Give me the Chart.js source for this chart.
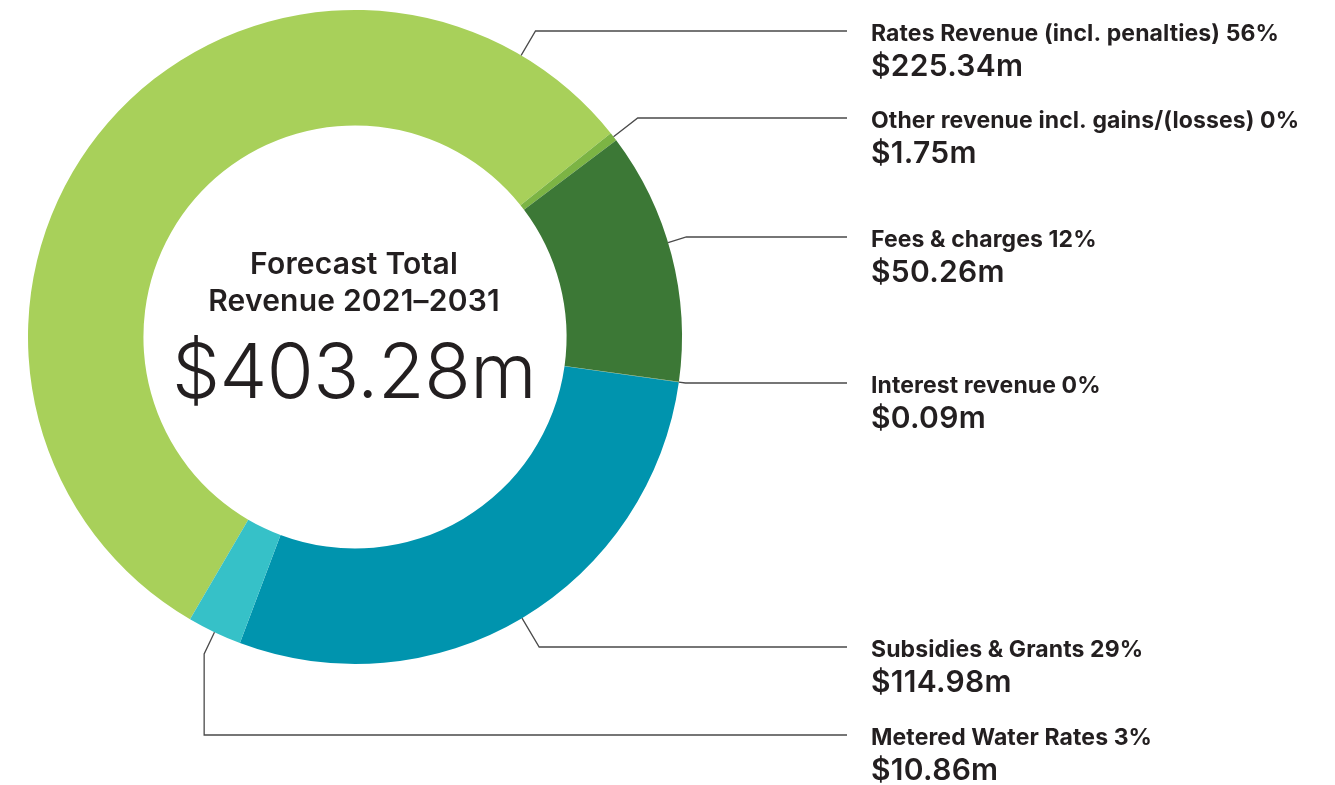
<!DOCTYPE html>
<html>
<head>
<meta charset="utf-8">
<script src="https://cdn.jsdelivr.net/npm/chart.js@4"></script>
<style>
  html, body { margin: 0; padding: 0; background: #fff; }
  canvas { display: block; }
</style>
</head>
<body>
<canvas id="revenue_chart" width="1335" height="785"></canvas>
<script>
// data
const categories = [
    'Rates Revenue (incl. penalties)',
    'Other revenue incl. gains/(losses)',
    'Fees & charges',
    'Interest revenue',
    'Subsidies & Grants',
    'Metered Water Rates'
];
const values = [225.34, 1.75, 50.26, 0.09, 114.98, 10.86];
const colours = ['#a8d05a', '#7cb444', '#3c7836', '#6e8f3a', '#0094ae', '#36c1c8'];
const centre_title = ['Forecast Total', 'Revenue 2021\u20132031'];

const total = values.reduce((a, b) => a + b, 0);
const money = v => '$' + v.toFixed(2) + 'm';
const percent = v => Math.round(v / total * 100) + '%';

// where each leader line meets its label (y of horizontal run), and where on the slice it starts
const label_y = [31, 118, 237, 383, 647, 735];
const anchor_at = [0.896, 0.5, 0.45, 0.5, 0.5, 0.5];
const line_end_x = 847;
const text_x = 871;
const ink = '#231f20';

const leader_labels = {
    id: 'leader_labels',
    afterDraw(chart) {
        const ctx = chart.ctx;
        const meta = chart.getDatasetMeta(0);
        ctx.save();
        meta.data.forEach((arc, i) => {
            const p = arc.getProps(['x', 'y', 'startAngle', 'endAngle', 'outerRadius'], true);
            const a = p.startAngle + (p.endAngle - p.startAngle) * anchor_at[i];
            const cos = Math.cos(a), sin = Math.sin(a);
            const ax = p.x + cos * p.outerRadius;
            const ay = p.y + sin * p.outerRadius;
            const ly = label_y[i];
            // go out radially until we hit the label row, or bend down if that is too far
            let t = Math.abs(sin) > 0.05 ? (ly - ay) / sin : -1;
            let ex, ey;
            if (t > 0 && t < 45) {
                ex = ax + cos * t; ey = ly;
            } else {
                t = 24; ex = ax + cos * t; ey = ay + sin * t;
            }
            ctx.beginPath();
            ctx.strokeStyle = '#4a4a4a';
            ctx.lineWidth = 1.3;
            ctx.moveTo(ax, ay);
            ctx.lineTo(ex, ey);
            if (ey !== ly) ctx.lineTo(ex, ly);
            ctx.lineTo(line_end_x, ly);
            ctx.stroke();

            ctx.fillStyle = ink;
            ctx.textAlign = 'left';
            ctx.textBaseline = 'alphabetic';
            ctx.font = '700 23px Inter';
            ctx.letterSpacing = '0.1px';
            ctx.fillText(categories[i] + ' ' + percent(values[i]), text_x, ly + 10);
            ctx.font = '600 30px Inter';
            ctx.letterSpacing = '0.3px';
            ctx.fillText(money(values[i]), text_x, ly + 45);
        });

        // centre text
        const c = meta.data[0];
        const cx = c.x - 1, cy = c.y;
        ctx.textAlign = 'center';
        ctx.fillStyle = ink;
        ctx.font = '600 30px Inter';
        ctx.letterSpacing = '0.2px';
        ctx.fillText(centre_title[0], cx, cy - 63);
        ctx.fillText(centre_title[1], cx, cy - 26);
        ctx.font = '300 76px Inter';
        ctx.letterSpacing = '-0.5px';
        ctx.fillText(money(total), cx, cy + 61);
        ctx.restore();
    }
};

window.onload = function() {
    const ctx = document.getElementById('revenue_chart').getContext('2d');
    new Chart(ctx, {
        type: 'doughnut',
        data: {
            labels: categories,
            datasets: [{
                data: values,
                backgroundColor: colours,
                borderWidth: 0,
                hoverOffset: 0
            }]
        },
        options: {
            responsive: false,
            devicePixelRatio: 1,
            animation: false,
            rotation: 210.3,
            cutout: '64.7%',
            layout: {
                padding: { left: 28, top: 10, right: 653, bottom: 121 }
            },
            plugins: {
                legend: { display: false },
                tooltip: { enabled: false }
            }
        },
        plugins: [leader_labels]
    });
};
</script>
</body>
</html>
